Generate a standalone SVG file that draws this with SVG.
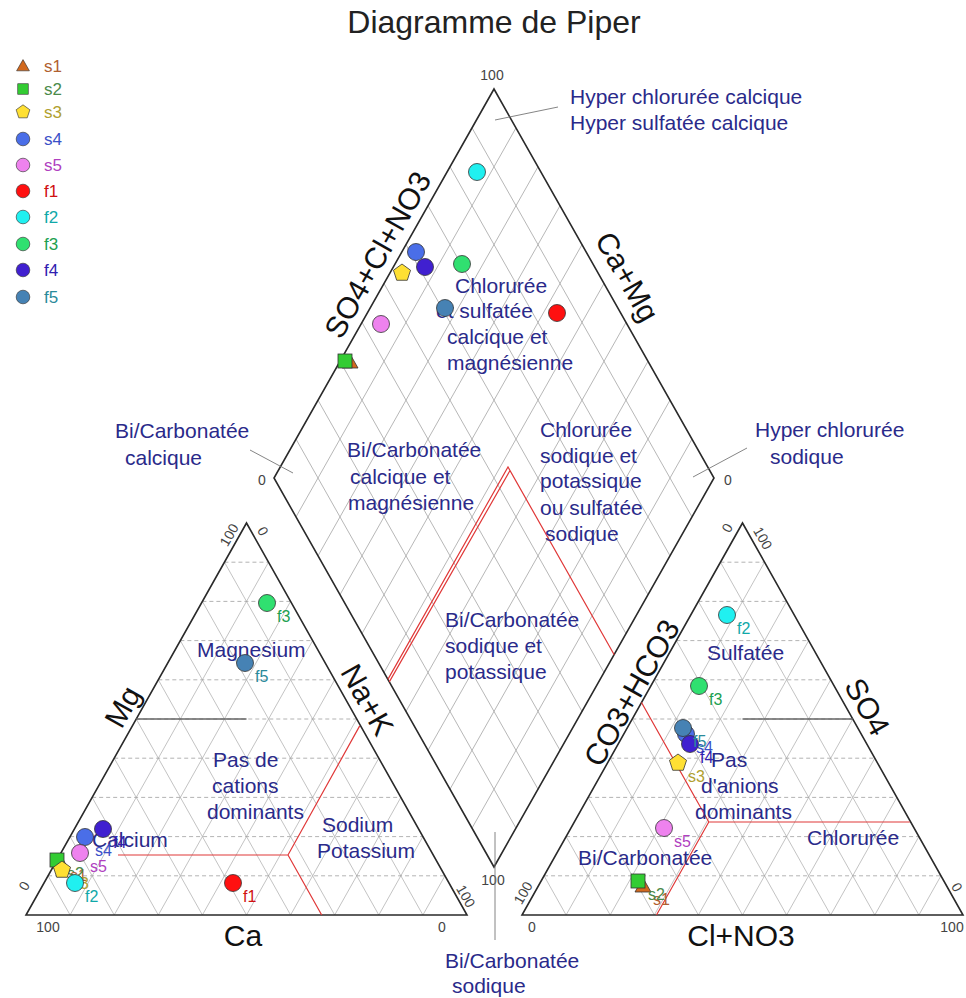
<svg xmlns="http://www.w3.org/2000/svg" width="966" height="998" viewBox="0 0 966 998">
<style>
text{font-family:"Liberation Sans",Arial,sans-serif}
.title{font-size:32px;fill:#222}
.lbl{font-size:21px;fill:#2a2a8a}
.axis{font-size:30px;fill:#111}
.tick{font-size:14px;fill:#444}
.plab{font-size:16px}
.leg{font-size:17px}
.frame{fill:none;stroke:#2a2a2a;stroke-width:1.6}
.grid{fill:none;stroke:#b4b4b4;stroke-width:0.8}
.dgrid{fill:none;stroke:#a4a4a4;stroke-width:0.8}
.hgrid{fill:none;stroke:#a0a0a0;stroke-width:0.8;stroke-dasharray:4 3}
.half{fill:none;stroke:#666;stroke-width:1.4}
.red{fill:none;stroke:#e03838;stroke-width:1.2}
.lead{fill:none;stroke:#777;stroke-width:0.9}
.mk{stroke:#333;stroke-width:0.8}
.c-s1{fill:#d2691e}.c-s2{fill:#33cc33}.c-s3{fill:#ffe033}.c-s4{fill:#4a6ee8}.c-s5{fill:#ee82ee}
.c-f1{fill:#ff1010}.c-f2{fill:#20f0f0}.c-f3{fill:#30e070}.c-f4{fill:#4020d0}.c-f5{fill:#4682b4}
.t-s1{fill:#b06030}.t-s2{fill:#4a8a4a}.t-s3{fill:#b0a030}.t-s4{fill:#3a50c8}.t-s5{fill:#b040c0}
.t-f1{fill:#d01010}.t-f2{fill:#10a8a8}.t-f3{fill:#20a050}.t-f4{fill:#3020b0}.t-f5{fill:#2a8a9a}
</style>
<defs>
<path id="tri" d="M0,-8L8,6L-8,6Z"/>
<rect id="sq" x="-7" y="-7" width="14" height="14"/>
<path id="pent" d="M0,-9L8.56,-2.78L5.29,7.28L-5.29,7.28L-8.56,-2.78Z"/>
<circle id="dot" r="8.5"/>
<g id="tgrid">
<path class="grid" d="M70.1,915L268.55,562.2M114.2,915L290.6,601.4M158.3,915L312.65,640.6M202.4,915L334.7,679.8M246.5,915L356.75,719M290.6,915L378.8,758.2M334.7,915L400.85,797.4M378.8,915L422.9,836.6M422.9,915L444.95,875.8M70.1,915L48.05,875.8M114.2,915L70.1,836.6M158.3,915L92.15,797.4M202.4,915L114.2,758.2M246.5,915L136.25,719M290.6,915L158.3,679.8M334.7,915L180.35,640.6M378.8,915L202.4,601.4M422.9,915L224.45,562.2"/>
<path class="hgrid" d="M48.05,875.8H444.95M70.1,836.6H422.9M92.15,797.4H400.85M114.2,758.2H378.8M136.25,719H356.75M158.3,679.8H334.7M180.35,640.6H312.65M202.4,601.4H290.6M224.45,562.2H268.55"/>
<path class="frame" d="M26,915L467,915L246.5,523Z"/>
</g>
</defs>
<rect width="966" height="998" fill="#fff"/>
<text id="title" class="title" x="494" y="33" text-anchor="middle">Diagramme de Piper</text>

<g id="diamond">
<path class="dgrid" d="M296,516.9L516,127.9M318,555.8L538,166.8M340,594.7L560,205.7M362,633.6L582,244.6M384,672.5L604,283.5M406,711.4L626,322.4M428,750.3L648,361.3M450,789.2L670,400.2M472,828.1L692,439.1M296,439.1L516,828.1M318,400.2L538,789.2M340,361.3L560,750.3M362,322.4L582,711.4M384,283.5L604,672.5M406,244.6L626,633.6M428,205.7L648,594.7M450,166.8L670,555.8M472,127.9L692,516.9"/>
<path class="frame" d="M494,89L714,478L494,867L274,478Z"/>
<path class="red" d="M387.9,679.4L508,467L614.2,654.7M389.3,681.9L510,470.5"/>
<text class="axis" transform="translate(378,255) rotate(-60.6)" y="10" text-anchor="middle">SO4+Cl+NO3</text>
<text class="axis" transform="translate(627,277) rotate(60.6)" y="10" text-anchor="middle">Ca+Mg</text>
<text class="tick" x="492" y="80" text-anchor="middle">100</text>
<text class="tick" x="262" y="485" text-anchor="middle">0</text>
<text class="tick" x="728" y="485" text-anchor="middle">0</text>
<text class="tick" x="493" y="885" text-anchor="middle">100</text>
<text class="lbl" x="455" y="293">Chlorurée</text>
<text class="lbl" x="436" y="318">et sulfatée</text>
<text class="lbl" x="447" y="344">calcique et</text>
<text class="lbl" x="447" y="370">magnésienne</text>
<text class="lbl" x="347" y="457">Bi/Carbonatée</text>
<text class="lbl" x="350" y="484">calcique et</text>
<text class="lbl" x="348" y="510">magnésienne</text>
<text class="lbl" x="540" y="437">Chlorurée</text>
<text class="lbl" x="540" y="463">sodique et</text>
<text class="lbl" x="540" y="488">potassique</text>
<text class="lbl" x="540" y="515">ou sulfatée</text>
<text class="lbl" x="545" y="541">sodique</text>
<text class="lbl" x="445" y="627">Bi/Carbonatée</text>
<text class="lbl" x="445" y="653">sodique et</text>
<text class="lbl" x="445" y="679">potassique</text>
<text class="lbl" x="570" y="104">Hyper chlorurée calcique</text>
<text class="lbl" x="570" y="130">Hyper sulfatée calcique</text>
<text class="lbl" x="755" y="437">Hyper chlorurée</text>
<text class="lbl" x="770" y="464">sodique</text>
<text class="lbl" x="115" y="438">Bi/Carbonatée</text>
<text class="lbl" x="125" y="465">calcique</text>
<text class="lbl" x="445" y="968">Bi/Carbonatée</text>
<text class="lbl" x="452" y="993">sodique</text>
</g>

<g id="cation-triangle">
<use href="#tgrid"/>
<path class="half" d="M136.25,719H246.5"/>
<path class="red" d="M118,855H288L359.7,725.9M288,855L321.7,915"/>
<text class="axis" transform="translate(123,707) rotate(-60.6)" y="10" text-anchor="middle">Mg</text>
<text class="axis" transform="translate(367,700) rotate(60.6)" y="10" text-anchor="middle">Na+K</text>
<text class="axis" x="243" y="946" text-anchor="middle">Ca</text>
<text class="tick" transform="translate(229,535) rotate(-60)" y="5" text-anchor="middle">100</text>
<text class="tick" transform="translate(263,531) rotate(60)" y="5" text-anchor="middle">0</text>
<text class="tick" transform="translate(24,886) rotate(-60)" y="5" text-anchor="middle">0</text>
<text class="tick" x="48" y="932" text-anchor="middle">100</text>
<text class="tick" x="442" y="932" text-anchor="middle">0</text>
<text class="tick" transform="translate(466,896) rotate(60)" y="5" text-anchor="middle">100</text>
<text class="lbl" x="197" y="657">Magnesium</text>
<text class="lbl" x="213" y="767">Pas de</text>
<text class="lbl" x="212" y="793">cations</text>
<text class="lbl" x="207" y="819">dominants</text>
<text class="lbl" x="92" y="847">Calcium</text>
<text class="lbl" x="322" y="832">Sodium</text>
<text class="lbl" x="317" y="858">Potassium</text>
</g>

<g id="anion-triangle">
<use href="#tgrid" transform="translate(496,0)"/>
<path class="half" d="M742.5,719H852.75"/>
<path class="red" d="M641.5,702.5L708.8,822H909.8M708.8,822L656.5,915"/>
<text class="axis" transform="translate(632,693) rotate(-60.6)" y="10" text-anchor="middle">CO3+HCO3</text>
<text class="axis" transform="translate(867,707) rotate(60.6)" y="10" text-anchor="middle">SO4</text>
<text class="axis" x="741" y="946" text-anchor="middle">Cl+NO3</text>
<text class="tick" transform="translate(727,528) rotate(-60)" y="5" text-anchor="middle">0</text>
<text class="tick" transform="translate(763,538) rotate(60)" y="5" text-anchor="middle">100</text>
<text class="tick" transform="translate(523,893) rotate(-60)" y="5" text-anchor="middle">100</text>
<text class="tick" x="532" y="932" text-anchor="middle">0</text>
<text class="tick" x="952" y="932" text-anchor="middle">100</text>
<text class="tick" transform="translate(957,887) rotate(60)" y="5" text-anchor="middle">0</text>
<text class="lbl" x="707" y="660">Sulfatée</text>
<text class="lbl" x="711" y="767">Pas</text>
<text class="lbl" x="701" y="793">d'anions</text>
<text class="lbl" x="695" y="819">dominants</text>
<text class="lbl" x="807" y="845">Chlorurée</text>
<text class="lbl" x="578" y="865">Bi/Carbonatée</text>
</g>

<g id="connectors">
<path class="lead" d="M495,120L558,107"/>
<path class="lead" d="M693,477L747,448"/>
<path class="lead" d="M250,450L293,473"/>
<path class="lead" d="M495,832V940"/>
</g>

<g id="pt-s1">
<use href="#tri" x="350" y="362" class="mk c-s1"/>
<use href="#tri" x="60" y="862" class="mk c-s1"/>
<text class="plab t-s1" x="70" y="881">s1</text>
<use href="#tri" x="643" y="886" class="mk c-s1"/>
<text class="plab t-s1" x="653" y="905">s1</text>
</g>
<g id="pt-s2">
<use href="#sq" x="345" y="361" class="mk c-s2"/>
<use href="#sq" x="57" y="860" class="mk c-s2"/>
<text class="plab t-s2" x="67" y="879">s2</text>
<use href="#sq" x="638" y="881" class="mk c-s2"/>
<text class="plab t-s2" x="648" y="900">s2</text>
</g>
<g id="pt-s3">
<use href="#pent" x="402" y="273" class="mk c-s3"/>
<use href="#pent" x="62" y="870" class="mk c-s3"/>
<text class="plab t-s3" x="72" y="889">s3</text>
<use href="#pent" x="678" y="763" class="mk c-s3"/>
<text class="plab t-s3" x="688" y="782">s3</text>
</g>
<g id="pt-s4">
<use href="#dot" x="416" y="252" class="mk c-s4"/>
<use href="#dot" x="85" y="837" class="mk c-s4"/>
<text class="plab t-s4" x="95" y="856">s4</text>
<use href="#dot" x="686" y="734" class="mk c-s4"/>
<text class="plab t-s4" x="696" y="753">s4</text>
</g>
<g id="pt-s5">
<use href="#dot" x="381" y="324" class="mk c-s5"/>
<use href="#dot" x="80" y="853" class="mk c-s5"/>
<text class="plab t-s5" x="90" y="872">s5</text>
<use href="#dot" x="664" y="828" class="mk c-s5"/>
<text class="plab t-s5" x="674" y="847">s5</text>
</g>
<g id="pt-f1">
<use href="#dot" x="557" y="313" class="mk c-f1"/>
<use href="#dot" x="233" y="883" class="mk c-f1"/>
<text class="plab t-f1" x="243" y="902">f1</text>
</g>
<g id="pt-f2">
<use href="#dot" x="477" y="172" class="mk c-f2"/>
<use href="#dot" x="75" y="883" class="mk c-f2"/>
<text class="plab t-f2" x="85" y="902">f2</text>
<use href="#dot" x="727" y="615" class="mk c-f2"/>
<text class="plab t-f2" x="737" y="634">f2</text>
</g>
<g id="pt-f3">
<use href="#dot" x="462" y="264" class="mk c-f3"/>
<use href="#dot" x="267" y="603" class="mk c-f3"/>
<text class="plab t-f3" x="277" y="622">f3</text>
<use href="#dot" x="699" y="686" class="mk c-f3"/>
<text class="plab t-f3" x="709" y="705">f3</text>
</g>
<g id="pt-f4">
<use href="#dot" x="425" y="267" class="mk c-f4"/>
<use href="#dot" x="103" y="829" class="mk c-f4"/>
<text class="plab t-f4" x="113" y="848">f4</text>
<use href="#dot" x="690" y="744" class="mk c-f4"/>
<text class="plab t-f4" x="700" y="763">f4</text>
</g>
<g id="pt-f5">
<use href="#dot" x="445" y="308" class="mk c-f5"/>
<use href="#dot" x="245" y="663" class="mk c-f5"/>
<text class="plab t-f5" x="255" y="682">f5</text>
<use href="#dot" x="683" y="728" class="mk c-f5"/>
<text class="plab t-f5" x="693" y="747">f5</text>
</g>

<g id="legend">
<g transform="translate(23,66) scale(0.8)"><use href="#tri" class="mk c-s1"/></g>
<text class="leg t-s1" x="44" y="72">s1</text>
<g transform="translate(23,89) scale(0.75)"><use href="#sq" class="mk c-s2"/></g>
<text class="leg t-s2" x="44" y="95">s2</text>
<g transform="translate(23,112) scale(0.8)"><use href="#pent" class="mk c-s3"/></g>
<text class="leg t-s3" x="44" y="118">s3</text>
<g transform="translate(23,139) scale(0.8)"><use href="#dot" class="mk c-s4"/></g>
<text class="leg t-s4" x="44" y="145">s4</text>
<g transform="translate(23,165) scale(0.8)"><use href="#dot" class="mk c-s5"/></g>
<text class="leg t-s5" x="44" y="171">s5</text>
<g transform="translate(23,191) scale(0.8)"><use href="#dot" class="mk c-f1"/></g>
<text class="leg t-f1" x="44" y="197">f1</text>
<g transform="translate(23,217) scale(0.8)"><use href="#dot" class="mk c-f2"/></g>
<text class="leg t-f2" x="44" y="223">f2</text>
<g transform="translate(23,244) scale(0.8)"><use href="#dot" class="mk c-f3"/></g>
<text class="leg t-f3" x="44" y="250">f3</text>
<g transform="translate(23,270) scale(0.8)"><use href="#dot" class="mk c-f4"/></g>
<text class="leg t-f4" x="44" y="276">f4</text>
<g transform="translate(23,297) scale(0.8)"><use href="#dot" class="mk c-f5"/></g>
<text class="leg t-f5" x="44" y="303">f5</text>
</g>
</svg>
